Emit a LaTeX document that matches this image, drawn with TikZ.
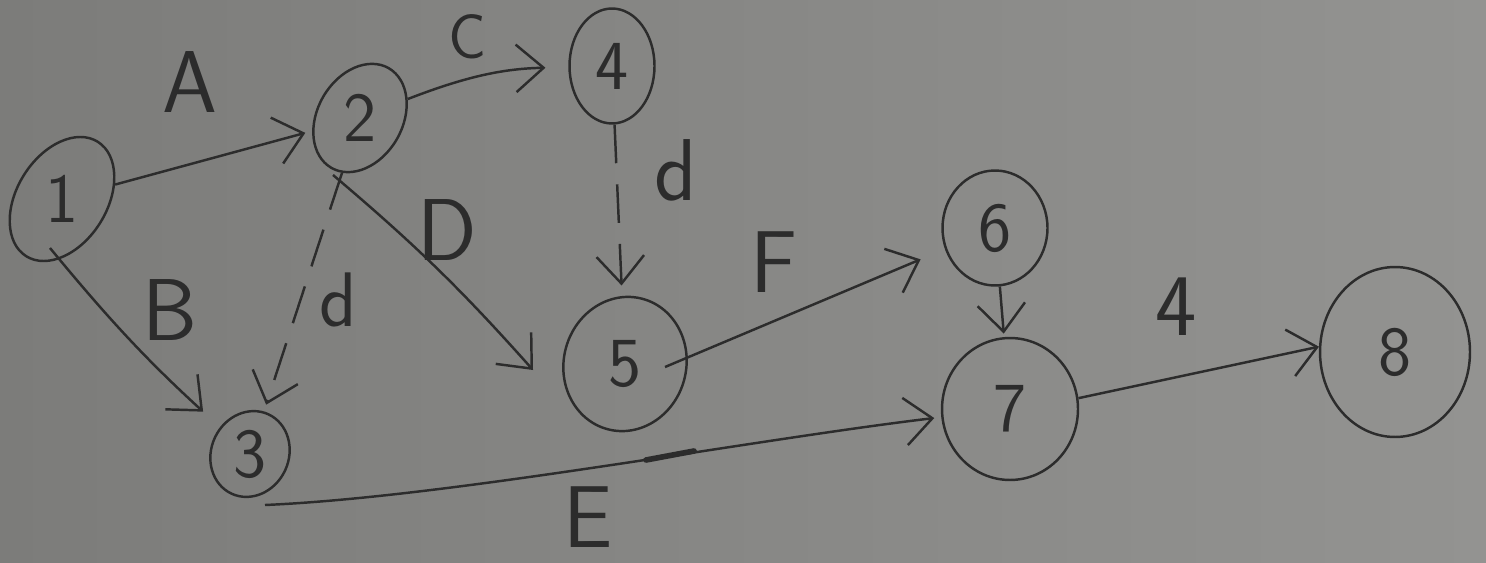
\documentclass[tikz,border=0pt]{standalone}
\usetikzlibrary{shapes.geometric,arrows.meta,calc}
\definecolor{paperL}{HTML}{7C7C7A}
\definecolor{paperR}{HTML}{939391}
\definecolor{ink}{HTML}{2C2C2C}
\begin{document}
\begin{tikzpicture}[x=0.02cm,y=0.02cm,
  ev/.style={ellipse,draw=ink,line width=1.4pt,inner sep=0pt,text=ink,
    font=\sffamily\fontsize{40}{42}\selectfont},
  act/.style={draw=ink,line width=1.4pt,
    -{Straight Barb[length=0.55cm,width=0.95cm,line width=1.4pt]}},
  dummy/.style={act,dash pattern=on 22pt off 12pt},
  lbl/.style={text=ink,font=\sffamily\fontsize{50}{52}\selectfont,inner sep=0pt}]
  % paper
  \shade[left color=paperL,right color=paperR] (0,0) rectangle (1486,562);
  \useasboundingbox (0,0) rectangle (1486,562);

  % events
  \node[ev,minimum width=2.7cm,minimum height=1.8cm,rotate=58] (n1) at (62,363) {\rotatebox{-58}{1}};
  \node[ev,minimum width=2.3cm,minimum height=1.7cm,rotate=60] (n2) at (360,444) {\rotatebox{-60}{2}};
  \node[ev,minimum width=1.75cm,minimum height=1.55cm,rotate=65] (n3) at (250,108) {\rotatebox{-65}{3}};
  \node[ev,minimum width=1.7cm,minimum height=2.3cm] (n4) at (612,496) {4};
  \node[ev,minimum width=2.45cm,minimum height=2.7cm,rotate=-15] (n5) at (625,198) {\rotatebox{15}{5}};
  \node[ev,minimum width=2.1cm,minimum height=2.3cm] (n6) at (995,334) {6};
  \node[ev,minimum width=2.72cm,minimum height=2.84cm] (n7) at (1010,153) {7};
  \node[ev,minimum width=3.0cm,minimum height=3.4cm] (n8) at (1395,210) {8};

  % activities
  \draw[act,shorten >=4pt] (n1) -- (n2);
  \draw[act,shorten >=13pt] (n2) to[bend left=10] (n4);
  \draw[act,shorten >=13pt] ($(n1)+(-12,-49)$) to[bend right=4] (n3);
  \draw[dummy,shorten >=4pt] (n2) -- (n3);
  \draw[act] ($(n2)+(-27,-57)$) to[bend left=4] ($(n5)+(-92,-6)$);
  \draw[dummy,shorten >=6pt] (n4) -- (n5);
  \draw[act,shorten >=15pt] ($(n5)+(40,-3)$) -- (n6);
  \draw[act,shorten >=2pt] (n6) -- (n7);
  \draw[act,shorten >=4pt] ($(n3)+(15,-51)$)
    .. controls ($(n3)+(200,-43)$) and ($(n7)+(-260,-31)$) .. (n7);
  \draw[act] (n7.9) -- (n8.176);
  % pen mark on the E line
  \draw[ink,line width=3.2pt,line cap=round] (646,102) -- (694,111);

  % labels
  \node[lbl] (lA) at (190,480) {A};
  \node[lbl,font=\sffamily\fontsize{36}{38}\selectfont] (lC) at (467,525) {C};
  \node[lbl] (lB) at (170,252) {B};
  \node[lbl,font=\sffamily\fontsize{44}{46}\selectfont] (ld1) at (338,262) {d};
  \node[lbl] (lD) at (447,332) {D};
  \node[lbl] (ld2) at (676,392) {d};
  \node[lbl] (lF) at (774,300) {F};
  \node[lbl] (lE) at (588,45) {E};
  \node[lbl] (l4) at (1176,255) {4};
\end{tikzpicture}
\end{document}
